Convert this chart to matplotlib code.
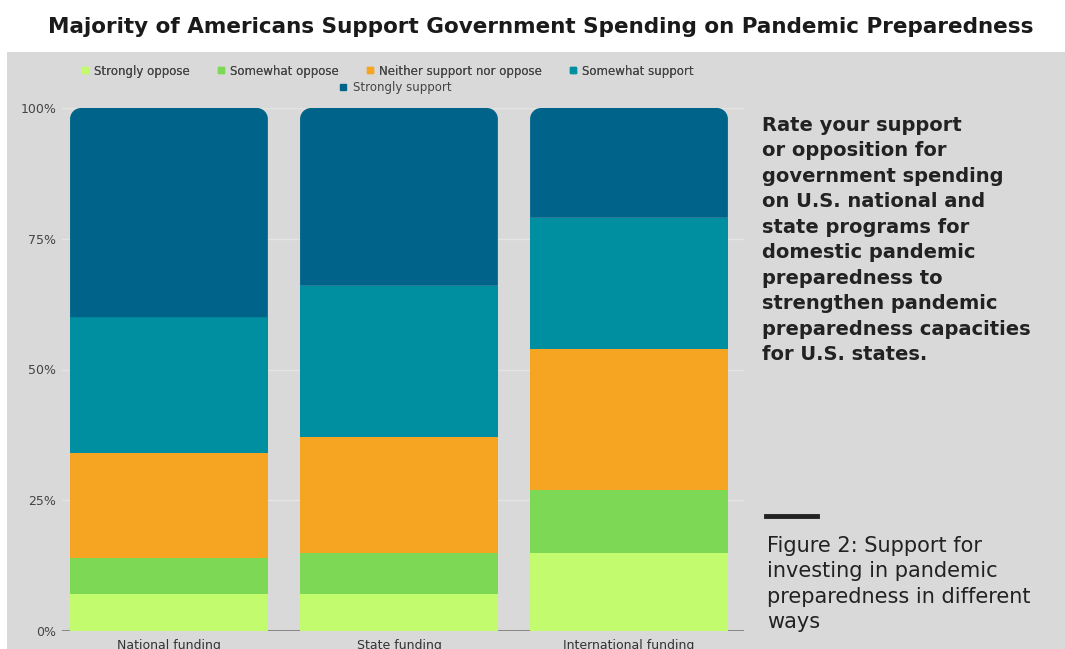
import numpy as np
import matplotlib
matplotlib.use("Agg")
from matplotlib import pyplot as plt
from matplotlib.patches import Rectangle, PathPatch
from matplotlib.path import Path
from matplotlib.lines import Line2D

# survey results, percent of respondents
categories = ["National funding", "State funding", "International funding"]
responses = ["Strongly oppose", "Somewhat oppose", "Neither support nor oppose",
             "Somewhat support", "Strongly support"]
strongly_oppose = [7, 7, 15]
somewhat_oppose = [7, 8, 12]
neither = [20, 22, 27]
somewhat_support = [26, 29, 25]
strongly_support = [40, 34, 21]
series = [strongly_oppose, somewhat_oppose, neither, somewhat_support, strongly_support]
colors = ["#c3fb6f", "#7dd855", "#f6a522", "#008fa0", "#00648a"]
yticks = [0, 25, 50, 75, 100]
ytick_labels = ["0%", "25%", "50%", "75%", "100%"]

W, H = 1065, 649
fig = plt.figure(figsize=(W / 100, H / 100), dpi=100)
fig.patch.set_facecolor("white")
bg = "#d9d9d9"
fig.patches.append(Rectangle((7 / W, 0), 1 - 7 / W, (H - 52) / H,
                             transform=fig.transFigure, facecolor=bg,
                             edgecolor="none", zorder=-10))

fig.text(0.508, 1 - 27 / H,
         "Majority of Americans Support Government Spending on Pandemic Preparedness",
         ha="center", va="center", fontsize=15.5, fontweight="bold", color="#1a1a1a")

ax_l, ax_r, ax_t, ax_b = 62, 744, 108, 631
ax = fig.add_axes([ax_l / W, (H - ax_b) / H, (ax_r - ax_l) / W, (ax_b - ax_t) / H])
ax.set_facecolor(bg)
x = np.arange(len(categories))
xlim = (-0.465, 2.5)
ax.set_xlim(*xlim)
ax.set_ylim(0, 100)

for v in [25, 50, 75, 100]:
    ax.axhline(v, color="#e4e4e4", lw=1, zorder=0)
ax.axhline(0, color="#7a7a7a", lw=1.2, zorder=0)

width = 0.86
bottom = np.zeros(len(categories))
bars = []
for vals, col in zip(series, colors):
    b = ax.bar(x, vals, width, bottom=bottom, color=col, edgecolor="none", zorder=2)
    bars.append(b)
    bottom += np.array(vals)

# round the top corners of the last segment
px_x = (ax_r - ax_l) / (xlim[1] - xlim[0])
px_y = (ax_b - ax_t) / 100
r = 11
rx, ry = r / px_x, r / px_y
k = 0.5523
for rect in bars[-1]:
    x0, y0 = rect.get_x(), rect.get_y()
    w, h = rect.get_width(), rect.get_height()
    verts = [(x0, y0), (x0 + w, y0), (x0 + w, y0 + h - ry),
             (x0 + w, y0 + h - ry + k * ry), (x0 + w - rx + k * rx, y0 + h), (x0 + w - rx, y0 + h),
             (x0 + rx, y0 + h),
             (x0 + rx - k * rx, y0 + h), (x0, y0 + h - ry + k * ry), (x0, y0 + h - ry),
             (x0, y0)]
    codes = [Path.MOVETO, Path.LINETO, Path.LINETO,
             Path.CURVE4, Path.CURVE4, Path.CURVE4,
             Path.LINETO,
             Path.CURVE4, Path.CURVE4, Path.CURVE4,
             Path.CLOSEPOLY]
    ax.add_patch(PathPatch(Path(verts, codes), facecolor=rect.get_facecolor(),
                           edgecolor="none", zorder=2))
    rect.set_visible(False)

for s in ax.spines.values():
    s.set_visible(False)
ax.set_yticks(yticks)
ax.set_yticklabels(ytick_labels)
ax.set_xticks(x)
ax.set_xticklabels(categories)
ax.tick_params(axis="y", length=0, pad=4, labelsize=9, labelcolor="#444444")
ax.tick_params(axis="x", length=0, pad=6, labelsize=9, labelcolor="#333333")

handles = [Line2D([], [], marker="s", ls="none", markersize=4.5, color=c) for c in colors]
leg1 = fig.legend(handles[:4], responses[:4], ncol=4, loc="center",
                  bbox_to_anchor=(387 / W, 1 - 71 / H), frameon=False, fontsize=8.5,
                  handlelength=0.8, handletextpad=0.4, columnspacing=2.2,
                  labelcolor="#444444")
fig.add_artist(leg1)
fig.legend(handles[4:], responses[4:], loc="center",
           bbox_to_anchor=(395 / W, 1 - 88 / H), frameon=False, fontsize=8.5,
           handlelength=0.8, handletextpad=0.4, labelcolor="#444444")

question = ("Rate your support\nor opposition for\ngovernment spending\n"
            "on U.S. national and\nstate programs for\ndomestic pandemic\n"
            "preparedness to\nstrengthen pandemic\npreparedness capacities\n"
            "for U.S. states.")
fig.text(762 / W, 1 - 116 / H, question, ha="left", va="top", fontsize=14,
         fontweight="bold", color="#222222", linespacing=1.43)

fig.lines.append(Line2D([766 / W, 817 / W], [1 - 516 / H, 1 - 516 / H],
                        transform=fig.transFigure, color="#222222", lw=3.5))
caption = "Figure 2: Support for\ninvesting in pandemic\npreparedness in different\nways"
fig.text(767 / W, 1 - 536 / H, caption, ha="left", va="top", fontsize=15,
         color="#222222", linespacing=1.34)

fig.savefig("out.png", dpi=100, facecolor=fig.get_facecolor())
